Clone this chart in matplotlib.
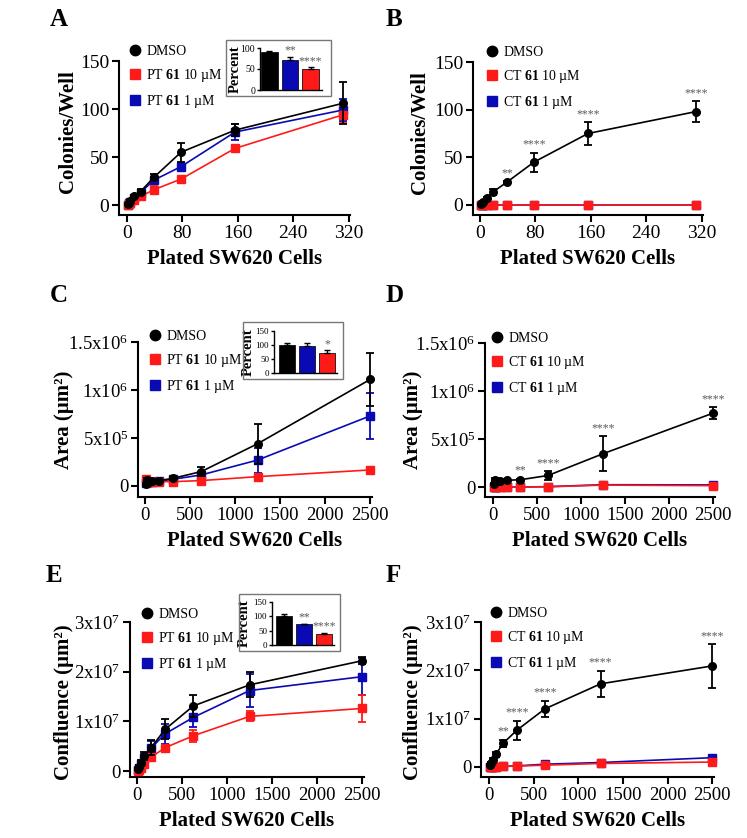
import numpy as np
import matplotlib
matplotlib.use("Agg")
import matplotlib.pyplot as plt
from matplotlib.lines import Line2D
from matplotlib.patches import Rectangle

plt.rcParams['font.family'] = ['Liberation Serif', 'DejaVu Serif']
plt.rcParams['mathtext.fontset'] = 'custom'
plt.rcParams['mathtext.rm'] = 'Liberation Serif'
plt.rcParams['mathtext.bf'] = 'Liberation Serif:bold'
plt.rcParams['mathtext.it'] = 'Liberation Serif:italic'

W, H = 747, 838
BLACK = '#000000'
RED = '#ff1a1a'
BLUE = '#0a0ab4'
STARC = '#5a5a5a'

# ---------------- data ----------------
x_ab = [1.2, 2.4, 4.9, 9.8, 19.5, 39, 78, 156, 312]
x_cf = [9.8, 19.5, 39, 78, 156, 312, 625, 1250, 2500]

A_dmso = [1, 2, 4, 9, 14, 29, 55, 78, 106]
A_dmso_err = [0.5, 1, 1, 1.5, 3, 3, 10, 6, 22]
A_pt1 = [0.5, 2, 3.5, 7, 13, 26, 40, 76, 99]
A_pt1_err = [0.5, 1, 1, 1, 2, 3, 4, 8, 11]
A_pt10 = [0.5, 1, 2.5, 5, 9, 16, 27, 59, 94]
A_pt10_err = [0.5, 0.5, 1, 1, 2, 4, 2, 2, 9]

B_dmso = [1, 2, 3.5, 7, 14, 24, 45, 75, 98]
B_dmso_err = [0.5, 0.5, 1, 1, 3, 1, 10, 12, 11]
B_ct10 = [0, 0, 0, 0, 0, 0, 0, 0, 0]
B_ct1 = [0, 0, 0, 0, 0, 0, 0, 0, 0]
B_stars = ['', '', '', '', '', '**', '****', '****', '****']

C_dmso = [2e4, 6e4, 4.5e4, 5.2e4, 5.6e4, 8e4, 1.5e5, 4.4e5, 1.11e6]
C_dmso_err = [1e4, 2e4, 1e4, 1e4, 1e4, 1.5e4, 5e4, 2.1e5, 2.8e5]
C_pt1 = [3e4, 4e4, 4e4, 4.5e4, 5e4, 7e4, 1.15e5, 2.7e5, 7.3e5]
C_pt1_err = [1e4, 1e4, 1e4, 1e4, 1e4, 1e4, 2e4, 1.3e5, 2.4e5]
C_pt10 = [7e4, 4e4, 4e4, 4.5e4, 4.5e4, 4.5e4, 5.6e4, 9.7e4, 1.67e5]
C_pt10_err = [1e4, 1e4, 1e4, 1e4, 1e4, 1e4, 1e4, 1e4, 1.5e4]

D_dmso = [3.5e4, 7.6e4, 6.5e4, 6.2e4, 7e4, 7.6e4, 1.2e5, 3.47e5, 7.7e5]
D_dmso_err = [1e4, 1.5e4, 1e4, 1e4, 1e4, 1e4, 4.5e4, 1.8e5, 6e4]
D_ct10 = [0, 0, 0, 0, 0, 0, 2e3, 2e4, 1.4e4]
D_ct1 = [0, 0, 0, 0, 0, 0, 4e3, 2.4e4, 2.2e4]
D_stars = ['', '', '', '', '', '**', '****', '****', '****']

E_dmso = [0.04e7, 0.09e7, 0.17e7, 0.30e7, 0.47e7, 0.84e7, 1.31e7, 1.735e7, 2.22e7]
E_dmso_err = [0.02e7, 0.03e7, 0.05e7, 0.08e7, 0.15e7, 0.2e7, 0.22e7, 0.25e7, 0.07e7]
E_pt1 = [0.03e7, 0.07e7, 0.14e7, 0.26e7, 0.46e7, 0.75e7, 1.08e7, 1.62e7, 1.9e7]
E_pt1_err = [0.02e7, 0.03e7, 0.05e7, 0.08e7, 0.15e7, 0.2e7, 0.2e7, 0.33e7, 0.37e7]
E_pt10 = [0.01e7, 0.03e7, 0.07e7, 0.14e7, 0.28e7, 0.47e7, 0.71e7, 1.10e7, 1.26e7]
E_pt10_err = [0.01e7, 0.02e7, 0.03e7, 0.05e7, 0.05e7, 0.05e7, 0.12e7, 0.1e7, 0.28e7]

F_dmso = [0.03e7, 0.08e7, 0.14e7, 0.26e7, 0.485e7, 0.76e7, 1.2e7, 1.72e7, 2.09e7]
F_dmso_err = [0.02e7, 0.03e7, 0.04e7, 0.05e7, 0.08e7, 0.2e7, 0.17e7, 0.27e7, 0.45e7]
F_ct10 = [0, 0, 0, 0.005e7, 0.01e7, 0.015e7, 0.035e7, 0.07e7, 0.1e7]
F_ct1 = [0, 0, 0, 0.005e7, 0.01e7, 0.02e7, 0.055e7, 0.09e7, 0.19e7]
F_stars = ['', '', '', '', '**', '****', '****', '****', '****']

A_inset = [91, 71, 49]
A_inset_err = [3, 7, 5]
A_inset_stars = ['', '**', '****']
C_inset = [100, 98, 71]
C_inset_err = [6, 8, 10]
C_inset_stars = ['', '', '*']
E_inset = [100, 73, 37]
E_inset_err = [8, 2, 5]
E_inset_stars = ['', '**', '****']

ticks_ab = [0, 80, 160, 240, 320]
ticks_cf = [0, 500, 1000, 1500, 2000, 2500]
yt_ab = [0, 50, 100, 150]
yt_ab_lab = ['0', '50', '100', '150']
yt_cd = [0, 5e5, 1e6, 1.5e6]
yt_cd_lab = ['0', r'5x10$^{5}$', r'1x10$^{6}$', r'1.5x10$^{6}$']
yt_ef = [0, 1e7, 2e7, 3e7]
yt_ef_lab = ['0', r'1x10$^{7}$', r'2x10$^{7}$', r'3x10$^{7}$']

# ---------------- helpers ----------------
fig = plt.figure(figsize=(W / 100, H / 100), dpi=100)


def fbox(l, t, r, b):
    return [l / W, 1 - b / H, (r - l) / W, (b - t) / H]


def style_axes(ax, lw=1.5, tl=5, fs=14):
    for s in ['top', 'right']:
        ax.spines[s].set_visible(False)
    for s in ['left', 'bottom']:
        ax.spines[s].set_linewidth(lw)
    ax.tick_params(direction='out', length=tl, width=lw, labelsize=fs, pad=2)


def series(ax, x, y, err, color, marker, z, ms=5.5):
    ax.errorbar(x, y, yerr=err, color=color, marker=marker, ms=ms,
                lw=1.2, elinewidth=1.3, capsize=3, capthick=1.3, zorder=z,
                clip_on=False)


def panel(box, xlim, ylim, xticks, yticks, ylabs, ylabel, ylab_xy, letter, letter_xy, fs=14):
    ax = fig.add_axes(fbox(*box))
    style_axes(ax, fs=fs)
    ax.set_xlim(*xlim)
    ax.set_ylim(*ylim)
    ax.set_xticks(xticks)
    ax.set_yticks(yticks)
    ax.set_yticklabels(ylabs)
    ax.set_xlabel('Plated SW620 Cells', fontsize=15, fontweight='bold', labelpad=5)
    ax.set_ylabel(ylabel, fontsize=15, fontweight='bold')
    ax.yaxis.set_label_coords((ylab_xy[0] - box[0]) / (box[2] - box[0]), ylab_xy[1])
    fig.text(letter_xy[0] / W, 1 - letter_xy[1] / H, letter, fontsize=18,
             fontweight='bold', ha='left', va='center')
    return ax


def legend(ax, prefix, left, top):
    hs = [Line2D([], [], marker='o', color=BLACK, ls='none', ms=7.5),
          Line2D([], [], marker='s', color=RED, ls='none', ms=7),
          Line2D([], [], marker='s', color=BLUE, ls='none', ms=7)]
    labs = ['DMSO', prefix + r' $\mathbf{61}$ 10 µM', prefix + r' $\mathbf{61}$ 1 µM']
    ax.legend(hs, labs, loc='upper left', bbox_to_anchor=(left / W, 1 - top / H),
              bbox_transform=fig.transFigure, frameon=False, fontsize=10,
              borderpad=0, borderaxespad=0, handlelength=0.9, handletextpad=0.35,
              labelspacing=0.65)


def stars(ax, x, y, err, labels, off):
    for xi, yi, ei, s in zip(x, y, err, labels):
        if s:
            ax.text(xi, yi + ei + off, s, ha='center', va='bottom', fontsize=8.5,
                    color=STARC)


def inset(box, xl, frame, ylim, yticks, vals, err, st, lab_off, tfs):
    fig.add_artist(Rectangle((frame[0] / W, 1 - frame[3] / H),
                             (frame[2] - frame[0]) / W, (frame[3] - frame[1]) / H,
                             transform=fig.transFigure, fill=False,
                             edgecolor='#777777', lw=1.0))
    ia = fig.add_axes(fbox(*box))
    style_axes(ia, lw=1.0, tl=2.5, fs=tfs)
    pos = np.arange(len(vals))
    ia.bar(pos, vals, width=0.8, color=[BLACK, BLUE, RED], edgecolor='#111111',
           lw=0.6, yerr=[np.zeros(len(err)), err], ecolor='black',
           error_kw=dict(capsize=2.5, elinewidth=1.0, capthick=1.0))
    for p, v, e, s in zip(pos, vals, err, st):
        if s:
            ia.text(p, v + e + 1, s, ha='center', va='bottom', fontsize=8.5,
                    color=STARC)
    ia.set_xlim(*xl)
    ia.set_ylim(*ylim)
    ia.set_yticks(yticks)
    ia.set_xticks([])
    ia.tick_params(pad=1)
    ia.set_ylabel('Percent', fontsize=10.5, fontweight='bold', labelpad=1)
    ia.yaxis.set_label_coords((frame[0] + lab_off - box[0]) / (box[2] - box[0]), 0.5)
    return ia


# ---------------- Panel A ----------------
axA = panel((119, 61, 350, 215), (-11.6, 322), (-10.4, 150), ticks_ab, yt_ab, yt_ab_lab,
            'Colonies/Well', (78, 0.54), 'A', (50, 19))
series(axA, x_ab, A_pt1, A_pt1_err, BLUE, 's', 3)
series(axA, x_ab, A_pt10, A_pt10_err, RED, 's', 4)
series(axA, x_ab, A_dmso, A_dmso_err, BLACK, 'o', 5)
legend(axA, 'PT', 129, 45)
inset((260, 48, 322, 90), (-0.45, 2.55), (226, 40, 331, 96), (0, 100), [0, 50, 100],
      A_inset, A_inset_err, A_inset_stars, 16, 7)

# ---------------- Panel B ----------------
axB = panel((473, 62, 703, 215), (-10, 322), (-10.5, 150), ticks_ab, yt_ab, yt_ab_lab,
            'Colonies/Well', (430, 0.54), 'B', (386, 19))
series(axB, x_ab, B_ct1, np.zeros(9), BLUE, 's', 3)
series(axB, x_ab, B_ct10, np.zeros(9), RED, 's', 4)
series(axB, x_ab, B_dmso, B_dmso_err, BLACK, 'o', 5)
stars(axB, x_ab, B_dmso, B_dmso_err, B_stars, 2)
legend(axB, 'CT', 486, 46)

# ---------------- Panel C ----------------
axC = panel((138, 342, 372, 497), (-78, 2520), (-1.15e5, 1.5e6), ticks_cf, yt_cd, yt_cd_lab,
            'Area (µm²)', (74, 0.5), 'C', (50, 295), fs=13.5)
series(axC, x_cf, C_pt1, C_pt1_err, BLUE, 's', 3)
series(axC, x_cf, C_pt10, C_pt10_err, RED, 's', 4)
series(axC, x_cf, C_dmso, C_dmso_err, BLACK, 'o', 5)
legend(axC, 'PT', 149, 330)
inset((274, 331, 337, 373), (-0.65, 2.5), (243, 322, 343, 379), (0, 150), [0, 50, 100, 150],
      C_inset, C_inset_err, C_inset_stars, 12, 6.5)

# ---------------- Panel D ----------------
axD = panel((485, 343, 715, 497), (-90, 2520), (-1.04e5, 1.5e6), ticks_cf, yt_cd, yt_cd_lab,
            'Area (µm²)', (423, 0.5), 'D', (386, 295), fs=13.5)
series(axD, x_cf, D_ct1, np.zeros(9), BLUE, 's', 3)
series(axD, x_cf, D_ct10, np.zeros(9), RED, 's', 4)
series(axD, x_cf, D_dmso, D_dmso_err, BLACK, 'o', 5)
stars(axD, x_cf, D_dmso, D_dmso_err, D_stars, 2e4)
legend(axD, 'CT', 491, 332)

# ---------------- Panel E ----------------
axE = panel((130, 622, 364, 777), (-78, 2520), (-1.2e6, 3e7), ticks_cf, yt_ef, yt_ef_lab,
            'Confluence (µm²)', (74, 0.48), 'E', (46, 575), fs=13.5)
series(axE, x_cf, E_pt1, E_pt1_err, BLUE, 's', 3)
series(axE, x_cf, E_pt10, E_pt10_err, RED, 's', 4)
series(axE, x_cf, E_dmso, E_dmso_err, BLACK, 'o', 5)
legend(axE, 'PT', 141, 608)
inset((272, 602, 334, 645), (-0.6, 2.5), (239, 594, 340, 651), (0, 150), [0, 50, 100, 150],
      E_inset, E_inset_err, E_inset_stars, 12, 6.5)

# ---------------- Panel F ----------------
axF = panel((481, 622, 714, 777), (-90, 2520), (-2.1e6, 3e7), ticks_cf, yt_ef, yt_ef_lab,
            'Confluence (µm²)', (423, 0.48), 'F', (386, 575), fs=13.5)
series(axF, x_cf, F_ct1, np.zeros(9), BLUE, 's', 3)
series(axF, x_cf, F_ct10, np.zeros(9), RED, 's', 4)
series(axF, x_cf, F_dmso, F_dmso_err, BLACK, 'o', 5)
stars(axF, x_cf, F_dmso, F_dmso_err, F_stars, 4e5)
legend(axF, 'CT', 490, 607)

fig.savefig('out.png', dpi=100)
